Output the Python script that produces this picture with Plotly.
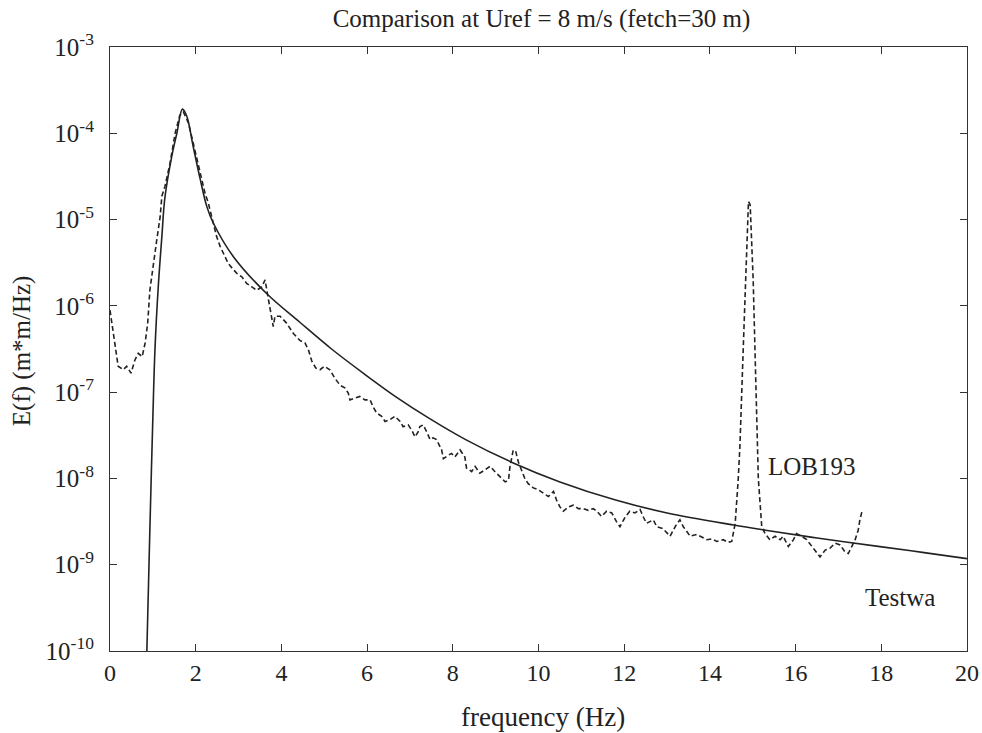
import plotly.graph_objects as go

# Testwa (solid) : frequency [Hz] and log10 E(f)
testwa_f = [0.84, 0.86, 0.90, 0.93, 1.00, 1.05, 1.13, 1.21, 1.28, 1.44, 1.56, 1.69, 1.79,
            1.94, 2.10, 2.26, 2.41, 2.88, 3.66, 4.43, 5.17, 5.91, 6.69, 7.47, 8.30,
            9.41, 10.50, 11.80, 13.00, 14.55, 15.30, 16.50, 17.97, 19.00, 20.00]
testwa_log10E = [-10.4, -10.0, -9.2, -8.6, -7.3, -6.5, -5.75, -5.2, -4.75, -4.27, -4.0, -3.72, -3.80,
                 -4.15, -4.52, -4.85, -5.04, -5.43, -5.86, -6.19, -6.50, -6.78, -7.06, -7.31, -7.55,
                 -7.82, -8.04, -8.25, -8.40, -8.54, -8.60, -8.69, -8.79, -8.86, -8.93]

# LOB193 (dashed) : frequency [Hz] and log10 E(f)
lob_f = [0.00, 0.12, 0.19, 0.31, 0.39, 0.49, 0.58, 0.66, 0.75, 0.82, 0.88, 0.93, 1.01, 1.09,
         1.17, 1.21, 1.28, 1.40, 1.52, 1.63, 1.71, 1.83, 1.94, 2.06, 2.14, 2.22, 2.29, 2.41,
         2.49, 2.57, 2.68, 2.76, 2.88, 2.99, 3.07, 3.19, 3.31, 3.42, 3.54, 3.62, 3.66, 3.73,
         3.77, 3.81, 3.85, 3.97, 4.12, 4.28, 4.43, 4.55, 4.63, 4.71, 4.80, 4.90, 5.00, 5.13,
         5.25, 5.37, 5.48, 5.56, 5.60, 5.72, 5.83, 5.95, 6.07, 6.14, 6.22, 6.34, 6.42, 6.53,
         6.65, 6.77, 6.84, 6.96, 7.04, 7.12, 7.19, 7.23, 7.31, 7.39, 7.47, 7.54, 7.62, 7.74,
         7.78, 7.90, 7.97, 8.05, 8.17, 8.28, 8.32, 8.44, 8.52, 8.63, 8.75, 8.87, 8.98, 9.10,
         9.22, 9.30, 9.33, 9.41, 9.47, 9.53, 9.61, 9.68, 9.76, 9.88, 9.99, 10.11, 10.23, 10.35,
         10.42, 10.50, 10.58, 10.70, 10.81, 10.93, 11.05, 11.16, 11.28, 11.36, 11.47, 11.59,
         11.71, 11.82, 11.90, 12.02, 12.13, 12.25, 12.37, 12.45, 12.52, 12.68, 12.76, 12.90,
         13.07, 13.20, 13.30, 13.38, 13.54, 13.69, 13.80, 13.93, 14.05, 14.16, 14.31, 14.42,
         14.51, 14.59, 14.66, 14.70, 14.78, 14.86, 14.90, 14.94, 15.01, 15.05, 15.09, 15.13,
         15.21, 15.29, 15.40, 15.52, 15.64, 15.71, 15.83, 15.95, 16.02, 16.14, 16.26, 16.38,
         16.49, 16.57, 16.69, 16.80, 16.92, 17.04, 17.15, 17.23, 17.31, 17.39, 17.46, 17.50,
         17.56]
lob_log10E = [-6.05, -6.43, -6.70, -6.74, -6.70, -6.78, -6.63, -6.55, -6.59, -6.43, -6.20, -5.82, -5.50, -5.24,
              -4.97, -4.73, -4.62, -4.35, -4.00, -3.79, -3.75, -3.88, -4.11, -4.35, -4.54, -4.70, -4.80, -5.05,
              -5.20, -5.31, -5.43, -5.51, -5.58, -5.64, -5.66, -5.74, -5.78, -5.82, -5.78, -5.70, -5.82, -6.01,
              -6.16, -6.24, -6.12, -6.12, -6.20, -6.32, -6.40, -6.43, -6.51, -6.64, -6.72, -6.74, -6.70, -6.74,
              -6.84, -6.92, -6.95, -7.01, -7.09, -7.07, -7.05, -7.09, -7.09, -7.17, -7.24, -7.28, -7.34, -7.32,
              -7.28, -7.34, -7.40, -7.38, -7.44, -7.52, -7.46, -7.40, -7.38, -7.46, -7.55, -7.53, -7.55, -7.67,
              -7.77, -7.73, -7.71, -7.75, -7.67, -7.75, -7.88, -7.92, -7.86, -7.94, -7.90, -7.86, -7.92, -7.98,
              -8.04, -8.02, -7.88, -7.67, -7.69, -7.81, -7.92, -8.00, -8.06, -8.11, -8.13, -8.17, -8.21, -8.15,
              -8.25, -8.33, -8.38, -8.33, -8.31, -8.35, -8.35, -8.37, -8.35, -8.38, -8.44, -8.38,
              -8.40, -8.50, -8.56, -8.45, -8.38, -8.40, -8.36, -8.45, -8.52, -8.48, -8.56, -8.58,
              -8.67, -8.55, -8.48, -8.56, -8.67, -8.65, -8.68, -8.71, -8.70, -8.73, -8.71, -8.74,
              -8.73, -8.52, -8.02, -7.63, -6.47, -5.31, -4.79, -4.83, -5.70, -6.47, -7.24, -8.00,
              -8.56, -8.64, -8.71, -8.67, -8.71, -8.67, -8.79, -8.71, -8.64, -8.67, -8.71, -8.79,
              -8.87, -8.91, -8.83, -8.81, -8.75, -8.77, -8.85, -8.87, -8.79, -8.71, -8.60, -8.48,
              -8.36]

x_ticks = [0, 2, 4, 6, 8, 10, 12, 14, 16, 18, 20]
y_exponents = [-3, -4, -5, -6, -7, -8, -9, -10]

title_text = "Comparison at Uref = 8 m/s (fetch=30 m)"
x_title = "frequency (Hz)"
y_title = "E(f) (m*m/Hz)"
label_lob = "LOB193"
label_testwa = "Testwa"

FONT = "Liberation Serif"
INK = "#222222"

testwa_E = [10 ** v for v in testwa_log10E]
lob_E = [10 ** v for v in lob_log10E]

fig = go.Figure()
fig.add_trace(go.Scatter(x=testwa_f, y=testwa_E, mode="lines", name=label_testwa,
                         line=dict(color=INK, width=1.6, shape="spline", smoothing=1.0)))
fig.add_trace(go.Scatter(x=lob_f, y=lob_E, mode="lines", name=label_lob,
                         line=dict(color=INK, width=1.6, dash="5px,3px")))

fig.add_annotation(x=16.38, y=-7.86, xref="x", yref="y", text=label_lob, showarrow=False,
                   font=dict(family=FONT, size=25, color=INK))
fig.add_annotation(x=18.44, y=-9.385, xref="x", yref="y", text=label_testwa, showarrow=False,
                   font=dict(family=FONT, size=25, color=INK))
# axis titles
fig.add_annotation(x=0.505, y=-0.109, xref="paper", yref="paper", text=x_title, showarrow=False,
                   xanchor="center", yanchor="middle",
                   font=dict(family=FONT, size=27, color=INK))
fig.add_annotation(x=-0.1027, y=0.498, xref="paper", yref="paper", text=y_title, showarrow=False,
                   textangle=-90, xanchor="center", yanchor="middle",
                   font=dict(family=FONT, size=25, color=INK))

fig.update_layout(
    width=982, height=733,
    margin=dict(l=110, r=15, t=47, b=82, autoexpand=False),
    paper_bgcolor="white", plot_bgcolor="white",
    showlegend=False,
    title=dict(text=title_text, x=0.5035, xref="paper", xanchor="center",
               y=1 - 18 / 733, yref="container", yanchor="middle",
               font=dict(family=FONT, size=25, color=INK)),
    font=dict(family=FONT, color=INK),
)
fig.update_xaxes(range=[0, 20], tickvals=x_ticks, ticktext=[str(v) for v in x_ticks],
                 ticks="inside", ticklen=7, tickcolor="#333333", showgrid=False, zeroline=False,
                 showline=True, linecolor="#333333", linewidth=1.2, mirror="ticks",
                 automargin=False,
                 tickfont=dict(family=FONT, size=24, color=INK))
fig.update_yaxes(type="log", range=[-10, -3], tickvals=[10 ** e for e in y_exponents],
                 ticktext=["10<sup>%d</sup>" % e for e in y_exponents],
                 ticks="inside", ticklen=7, tickcolor="#333333", showgrid=False, zeroline=False,
                 showline=True, linecolor="#333333", linewidth=1.2, mirror="ticks",
                 automargin=False, ticklabelstandoff=10,
                 tickfont=dict(family=FONT, size=25, color=INK))

fig.write_html("out.html", config={"displayModeBar": False},
               post_script="document.body.style.margin='0';")
